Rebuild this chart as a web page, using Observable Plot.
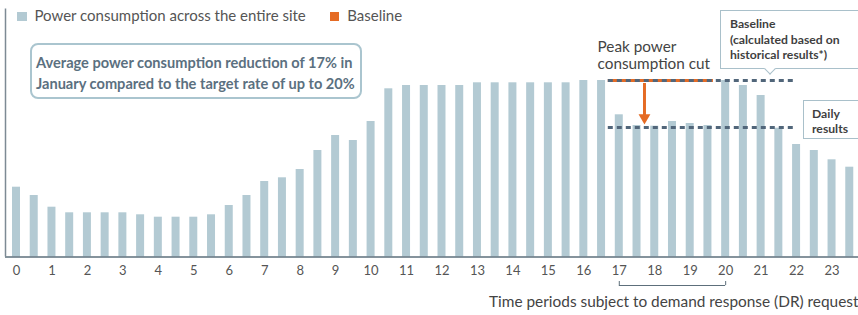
<!DOCTYPE html>
<html>
<head>
<meta charset="utf-8">
<script src="https://cdn.jsdelivr.net/npm/d3@7"></script>
<script src="https://cdn.jsdelivr.net/npm/@observablehq/plot@0.6"></script>
<style>
  html, body { margin: 0; padding: 0; background: #fff; }
  body { font-family: Lato, "Open Sans", sans-serif; }
  #wrap { position: relative; width: 858px; height: 315px; overflow: hidden; }
  #wrap svg { position: absolute; left: 0; top: 0; }
  .legend { position: absolute; left: 17px; top: 6px; font-size: 15px; color: #555; white-space: nowrap; line-height: 18px; }
  .legend span.sw { display: inline-block; width: 9.5px; height: 9.5px; vertical-align: 0px; margin-right: 8px; }
  .legend span.item { margin-right: 24px; }
  .note { position: absolute; left: 30px; top: 43px; width: 332px; height: 56px; box-sizing: border-box;
          border: 2px solid #aac5cf; border-radius: 8px; padding: 7px 0 0 4px; background: #fff;
          font-weight: 700; font-size: 14.6px; line-height: 21px; color: #5b7080; white-space: nowrap; }
  .callout { position: absolute; box-sizing: border-box; border: 1px solid #a9c0ca; background: #fff;
             font-weight: 700; font-size: 12.2px; line-height: 15.5px; color: #3f3f3f; white-space: nowrap; }
  .callout.base { left: 720px; top: 10px; width: 160px; height: 59px; padding: 5px 0 0 9px; }
  .callout.base::after { content: ""; position: absolute; left: 45px; bottom: -4.5px; width: 7px; height: 7px;
             background: #fff; border-right: 1px solid #a9c0ca; border-bottom: 1px solid #a9c0ca; transform: rotate(45deg); }
  .callout.daily { left: 803px; top: 100px; width: 80px; height: 39px; padding: 4.5px 0 0 8px; }
</style>
</head>
<body>
<div id="wrap"></div>
<script>
// ---- data ----
const slots = ["0:00","0:30","1:00","1:30","2:00","2:30","3:00","3:30","4:00","4:30","5:00","5:30",
  "6:00","6:30","7:00","7:30","8:00","8:30","9:00","9:30","10:00","10:30","11:00","11:30",
  "12:00","12:30","13:00","13:30","14:00","14:30","15:00","15:30","16:00","16:30","17:00","17:30",
  "18:00","18:30","19:00","19:30","20:00","20:30","21:00","21:30","22:00","22:30","23:00","23:30"];
const consumption = [34.9,30.75,24.9,22.1,22.1,22.1,22.1,21.1,19.9,19.9,19.9,21.1,
  25.75,30.75,37.75,39.6,43.75,53.25,60.75,58.25,67.75,84.1,85.75,85.75,
  85.75,85.75,87.1,87.1,87.1,87.1,87.1,87.1,88.25,88.25,71.1,65.75,
  65.4,67.75,66.75,65.75,88.25,85.75,80.75,64.4,56.25,53.25,48.6,44.9];
const hourSlots = ["0:00","1:00","2:00","3:00","4:00","5:00","6:00","7:00","8:00","9:00","10:00","11:00",
  "12:00","13:00","14:00","15:00","16:00","17:00","18:00","19:00","20:00","21:00","22:00","23:00"];
const hourLabels = ["0","1","2","3","4","5","6","7","8","9","10","11",
  "12","13","14","15","16","17","18","19","20","21","22","23"];
const baselineValue = 88.25;
const dailyValue = 64.75;
const drPeriod = ["17:00", "20:00"];
const peakCut = [{slot: "17:30", from: 86.75, to: 69.75, tip: 69.65}];

const barColor = "#b3cad3";
const orange = "#e56b24";
const dotColor = "#51667a";

const rows = slots.map((s, i) => ({slot: s, value: consumption[i]}));
const baseLine = [{v: baselineValue, from: "17:00", to: "22:00"}];
const baseOrange = [{v: baselineValue, from: "17:00", to: "19:30"}];
const dailyLine = [{v: dailyValue, from: "17:00", to: "22:00"}];

const chart = Plot.plot({
  width: 858,
  height: 315,
  marginLeft: 5,
  marginRight: 0,
  marginTop: 6.5,
  marginBottom: 58.5,
  style: {fontFamily: "Lato, 'Open Sans', sans-serif", background: "transparent", overflow: "visible"},
  x: {type: "band", domain: slots, range: [2.27, 863.0], padding: 0.549},
  y: {domain: [0, 125], axis: null},
  marks: [
    Plot.barY(rows, {x: "slot", y: "value", fill: barColor}),
    Plot.ruleY([0], {stroke: "#5d6f7b", strokeWidth: 1.5}),
    Plot.ruleX([slots[0]], {x: d => d, y1: 0, y2: 124, dx: -11, stroke: "#7d8a94", strokeWidth: 1.5}),
    Plot.axisX({ticks: hourSlots, tickFormat: d => hourLabels[hourSlots.indexOf(d)], tickSize: 0,
      tickPadding: 9, fontSize: 13, color: "#555", label: null}),
    // baseline (orange portion) and dotted guide lines
    Plot.ruleY(baseOrange, {y: "v", x1: "from", x2: "to", insetLeft: -7, insetRight: -1.5, stroke: orange, strokeWidth: 3}),
    Plot.ruleY(baseLine, {y: "v", x1: "from", x2: "to", insetLeft: -7, insetRight: 5, stroke: dotColor, strokeWidth: 3, strokeDasharray: "5,4"}),
    Plot.ruleY(dailyLine, {y: "v", x1: "from", x2: "to", insetLeft: -7, insetRight: 5, stroke: dotColor, strokeWidth: 3, strokeDasharray: "5,4"}),
    // peak-cut arrow
    Plot.ruleX(peakCut, {x: "slot", y1: "from", y2: "to", dx: 7.45, stroke: orange, strokeWidth: 3}),
    Plot.dot(peakCut, {x: "slot", y: "tip", dx: 7.45, symbol: "triangle", r: 4.4, rotate: 180, fill: orange, stroke: "none"}),
    Plot.text(["Peak power\nconsumption cut"], {x: () => "16:30", y: () => 94, text: d => d, textAnchor: "start",
      lineAnchor: "bottom", lineHeight: 1.1, dx: -4, fontSize: 15.3, fill: "#444"}),
    // DR period bracket
    Plot.ruleY([{from: drPeriod[0], to: drPeriod[1]}], {y: () => 0, x1: "from", x2: "to", insetLeft: 4, insetRight: 4,
      dy: 28.5, stroke: "#5d6f7b", strokeWidth: 1}),
    Plot.ruleX(drPeriod, {x: d => d, y1: 0, y2: 2, dy: 28.5, stroke: "#5d6f7b", strokeWidth: 1}),
    Plot.text(["Time periods subject to demand response (DR) request"], {frameAnchor: "bottom-right",
      textAnchor: "end", lineAnchor: "bottom", dy: 50.2, dx: 0, fontSize: 15.4, fill: "#444"})
  ]
});

const wrap = document.getElementById("wrap");
wrap.appendChild(chart);

const legend = document.createElement("div");
legend.className = "legend";
legend.innerHTML = `<span class="item"><span class="sw" style="background:${barColor}"></span>Power consumption across the entire site</span>` +
  `<span class="item"><span class="sw" style="background:${orange}"></span>Baseline</span>`;
wrap.appendChild(legend);

const note = document.createElement("div");
note.className = "note";
note.innerHTML = "Average power consumption reduction of 17% in<br>January compared to the target rate of up to 20%";
wrap.appendChild(note);

const cBase = document.createElement("div");
cBase.className = "callout base";
cBase.innerHTML = "Baseline<br>(calculated based on<br>historical results*)";
wrap.appendChild(cBase);

const cDaily = document.createElement("div");
cDaily.className = "callout daily";
cDaily.innerHTML = "Daily<br>results";
wrap.appendChild(cDaily);
</script>
</body>
</html>
